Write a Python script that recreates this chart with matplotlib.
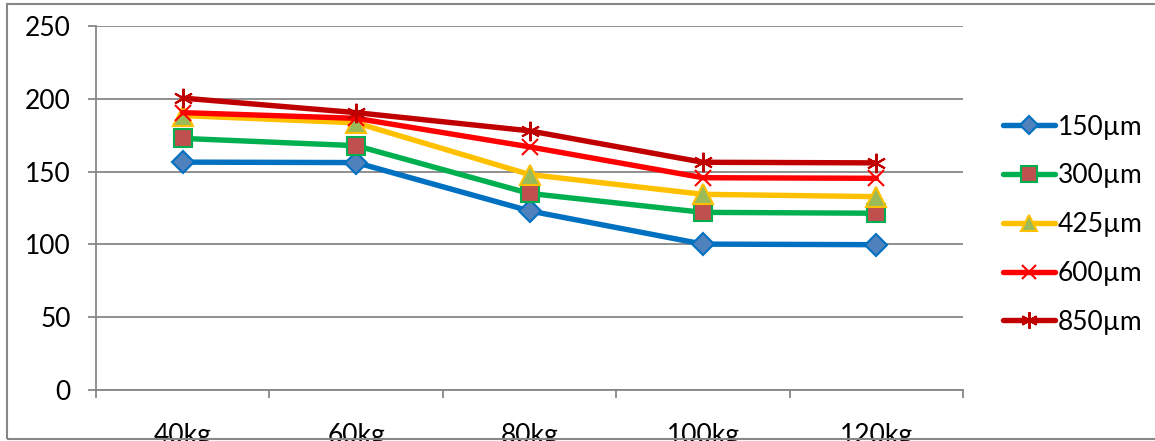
import matplotlib
matplotlib.use("Agg")
import matplotlib.pyplot as plt
from matplotlib.patches import Rectangle

categories = ["40kg", "60kg", "80kg", "100kg", "120kg"]
series_names = ["150µm", "300µm", "425µm", "600µm", "850µm"]
s150 = [156.5, 156.2, 123.0, 100.2, 99.8]
s300 = [172.8, 167.8, 135.0, 122.0, 121.4]
s425 = [188.5, 183.5, 148.0, 134.4, 132.8]
s600 = [190.5, 186.6, 167.0, 145.8, 145.4]
s850 = [200.5, 190.5, 178.0, 156.4, 156.0]
yticks = [0, 50, 100, 150, 200, 250]

FONT = ["Lato", "DejaVu Sans"]
plt.rcParams['font.family'] = FONT
FS = 19

fig = plt.figure(figsize=(11.55, 4.41), dpi=100)
ax = fig.add_axes([96/1155, 1-390/441, (963-96)/1155, (390-26)/441])

x = list(range(len(categories)))
styles = [
    dict(color="#0070C0", marker="D", mfc="#4F81BD", mec="#0070C0", ms=11),
    dict(color="#00B050", marker="s", mfc="#C0504D", mec="#00B050", ms=13),
    dict(color="#FFC000", marker="^", mfc="#9BBB59", mec="#FFC000", ms=14),
    dict(color="#FF0000", marker="x", mfc="#FF0000", mec="#FF0000", ms=12, mew=1.5),
    dict(color="#C00000", marker=(6, 2, 0), mfc="#C00000", mec="#C00000", ms=14, mew=1.5),
]
data = [s150, s300, s425, s600, s850]
for name, vals, st in zip(series_names, data, styles):
    kw = dict(st)
    mew = kw.pop("mew", 1.5)
    ax.plot(x, vals, lw=3.9, label=name, mew=mew, solid_capstyle="round", **kw)

ax.set_xlim(-0.5, 4.5)
ax.set_ylim(0, 250)
ax.set_yticks(yticks)
ax.set_yticklabels([str(v) for v in yticks], fontsize=FS)
ax.yaxis.grid(True, color="#878787", lw=1.3)
ax.set_axisbelow(True)
ax.set_xticks(x)
ax.set_xticklabels(categories, fontsize=FS)
ax.tick_params(axis="x", length=0, pad=24)
ax.set_xticks([i - 0.5 for i in range(len(categories) + 1)], minor=True)
ax.tick_params(axis="x", which="minor", length=6, color="#878787", width=1.3)
ax.tick_params(axis="y", length=6, color="#878787", width=1.3, pad=12)
for side in ["top", "right"]:
    ax.spines[side].set_visible(False)
for side in ["left", "bottom"]:
    ax.spines[side].set_color("#878787")
    ax.spines[side].set_linewidth(1.3)

leg = fig.legend(loc="upper left", bbox_to_anchor=(992/1155, 1-104/441), frameon=False,
                 fontsize=FS, handlelength=2.0, handletextpad=0.1, labelspacing=0.9,
                 borderaxespad=0, markerscale=0.85)

fig.patches.append(Rectangle((7/1155, 2/441), 1.0, 1-6/441, transform=fig.transFigure,
                             fill=False, edgecolor="#878787", lw=1.5))

fig.savefig("out.png", dpi=100)
